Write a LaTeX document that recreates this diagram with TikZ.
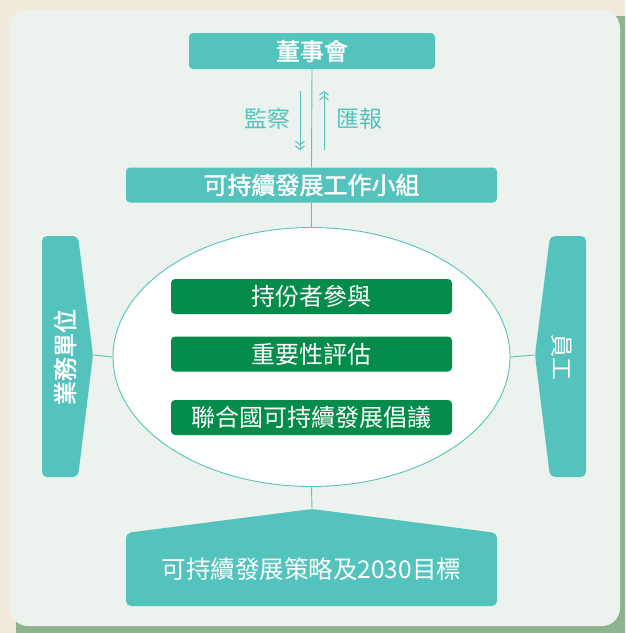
\documentclass[tikz,border=0pt]{standalone}
\usepackage{fontspec}
\setmainfont{Noto Sans CJK TC}
\newfontfamily\medfont[FakeBold=1.6]{Noto Sans CJK TC}
\usetikzlibrary{arrows.meta,shapes.geometric}
\definecolor{tealc}{HTML}{55C3BD}
\definecolor{greenc}{HTML}{058B4A}
\definecolor{beige}{HTML}{F2EBDD}
\definecolor{panelc}{HTML}{ECF3EE}
\definecolor{shadowc}{HTML}{8FB28F}
\tikzset{
  tealbox/.style={fill=tealc, rounded corners=4pt, text=white, inner sep=0pt, font=\fontsize{24}{28}\selectfont\medfont},
  greenbox/.style={fill=greenc, rounded corners=4pt, text=white, inner sep=0pt, minimum width=281pt, minimum height=35pt, font=\fontsize{24}{28}\selectfont},
  conn/.style={draw=tealc, line width=0.9pt},
  flowarrow/.style={draw=tealc, line width=1pt, -{Straight Barb[length=3.5pt,width=9pt] Straight Barb[length=3.5pt,width=9pt]}},
  lbl/.style={text=tealc, inner sep=0pt, font=\fontsize{23}{27}\selectfont},
  sidetext/.style={text=white, inner sep=0pt},
}
\begin{document}
\begin{tikzpicture}[x=1pt,y=-1pt]
\useasboundingbox (0,0) rectangle (625,633);
\clip (0,0) rectangle (625,633);
\fill[beige] (0,0) rectangle (625,633);
\fill[shadowc, rounded corners=18pt] (16,16) rectangle (644,650);
\fill[panelc, rounded corners=18pt] (10,10) rectangle (620,626);

% top boxes
\node[tealbox, minimum width=246pt, minimum height=36pt] (board) at (312,51) {董事會};
\node[tealbox, minimum width=371pt, minimum height=35pt] (group) at (311.5,185) {可持續發展工作小組};

% ellipse
\node[ellipse, draw=tealc, line width=0.9pt, fill=white, minimum width=397pt, minimum height=259pt, inner sep=0pt] (ell) at (311.5,357) {};

\draw[conn] (board.south) -- (group.north);
\draw[conn] (group.south) -- (ell.north);

% arrows and labels
\coordinate (dtop) at (300,91);
\coordinate (dbot) at (300,150);
\coordinate (utop) at (324,91);
\coordinate (ubot) at (324,150);
\draw[flowarrow] (dtop) -- (dbot);
\draw[flowarrow] (ubot) -- (utop);
\node[lbl] (sup) at (267,119) {監察};
\node[lbl] (rep) at (359,119) {匯報};

% green boxes
\node[greenbox] (g1) at (311.5,296.5) {持份者參與};
\node[greenbox] (g2) at (311.5,354) {重要性評估};
\node[greenbox] (g3) at (311.5,417.5) {聯合國可持續發展倡議};

% left side shape
\fill[tealc, rounded corners=5pt] (42,236) -- (78,236) -- (93,355) -- (78,477) -- (42,477) -- cycle;
\coordinate (ltip) at (93,355);
\node[sidetext, rotate=90, font=\fontsize{24}{28}\selectfont\medfont] (biz) at (65,357) {業務單位};
% right side shape
\fill[tealc, rounded corners=5pt] (550,236) -- (586,236) -- (586,477) -- (550,477) -- (535,355) -- cycle;
\coordinate (rtip) at (535,355);
\node[sidetext, rotate=-90, font=\fontsize{23}{27}\selectfont] (staff) at (562,357) {員工};

\draw[conn] (ltip) -- (ell.west);
\draw[conn] (ell.east) -- (rtip);

% bottom shape
\fill[tealc, rounded corners=5pt] (126,533) -- (312,509) -- (497,533) -- (497,606) -- (126,606) -- cycle;
\coordinate (btip) at (312,509);
\node[text=white, inner sep=0pt, font=\fontsize{24.5}{28}\selectfont] (goal) at (311.5,569) {可持續發展策略及2030目標};
\draw[conn] (ell.south) -- (btip);
\end{tikzpicture}
\end{document}
